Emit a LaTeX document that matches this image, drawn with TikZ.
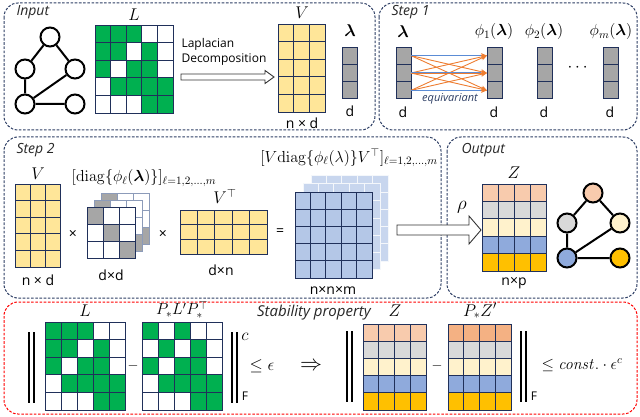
\RequirePackage{fix-cm}
\documentclass[tikz,border=0pt]{standalone}
\usepackage{amsmath}
\usepackage{bm}
\usepackage[no-math]{fontspec}
\setmainfont{Open Sans}
\usetikzlibrary{arrows.meta}
\definecolor{navyb}{RGB}{45,62,100}
\definecolor{cellb}{RGB}{32,48,90}
\definecolor{gGreen}{RGB}{0,176,80}
\definecolor{gYellow}{RGB}{255,230,153}
\definecolor{gGray}{RGB}{166,166,166}
\definecolor{gBlue}{RGB}{180,199,231}
\definecolor{gBlueL}{RGB}{200,214,238}
\definecolor{zA}{RGB}{248,203,173}
\definecolor{zAA}{RGB}{244,177,131}
\definecolor{zB}{RGB}{217,217,217}
\definecolor{zC}{RGB}{255,242,204}
\definecolor{zD}{RGB}{143,170,220}
\definecolor{zE}{RGB}{255,192,0}
\definecolor{orl}{RGB}{237,125,49}
\definecolor{bll}{RGB}{91,140,213}
\definecolor{liteb}{RGB}{140,155,185}
\newcommand{\mgrid}[8]{%
  \foreach \ci in {1,...,#3}{\foreach \ri in {1,...,#4}{
    \draw[#7,fill=#8] ({#1+(\ci-1)*#5},{#2+(\ri-1)*#6}) rectangle ++(#5,#6);}}}
\newcommand{\mcells}[7]{%
  \foreach \ci/\ri in {#7}{
    \draw[#5,fill=#6] ({#1+(\ci-1)*#3},{#2+(\ri-1)*#4}) rectangle ++(#3,#4);}}
\newcommand{\zrows}[6]{%
  \foreach \ri/\rc in {#6}{\foreach \ci in {1,...,4}{
    \draw[#5,fill=\rc] ({#1+(\ci-1)*#3},{#2+(\ri-1)*#4}) rectangle ++(#3,#4);}}}
\begin{document}
\begin{tikzpicture}[x=1pt,y=-1pt,
  panel/.style={draw=navyb,line width=1pt,dash pattern=on 2.6pt off 1.6pt,rounded corners=14pt},
  rpanel/.style={draw=red,line width=1pt,dash pattern=on 2.6pt off 1.6pt,rounded corners=14pt},
  cb/.style={draw=cellb,line width=0.8pt},
  cbl/.style={draw=liteb,line width=0.7pt},
  cbw/.style={draw=white!85!gBlue,line width=0.7pt},
  ttl/.style={font=\itshape\fontsize{14}{16}\selectfont,text=black!85},
  lbl/.style={font=\fontsize{14}{16}\selectfont},
  mlb/.style={font=\fontsize{17}{19}\selectfont},
  mlong/.style={font=\fontsize{16}{18}\selectfont},
  gn/.style={circle,draw=black,line width=2pt,minimum size=19pt,inner sep=0pt},
  ge/.style={draw=black,line width=2pt},
  hollow/.style={draw=black!80,line width=0.9pt,fill=white},
  nb/.style={line width=1.5pt},
  ora/.style={draw=orl,line width=0.9pt,-{Stealth[length=6pt,width=5pt]}},
  blu/.style={draw=bll,line width=1pt}]
\useasboundingbox (0,0) rectangle (640,417);
% panels
\draw[panel] (4,3) rectangle (375,130);
\draw[panel] (379,3) rectangle (637,130);
\draw[panel] (4,137) rectangle (441,298);
\draw[panel] (447,137) rectangle (637,298);
\draw[rpanel] (4,302) rectangle (637,414);
\node[ttl,anchor=west] (tin) at (13,12) {Input};
\node[ttl,anchor=west] (ts1) at (388,12) {Step 1};
\node[ttl,anchor=west] (ts2) at (13,150) {Step 2};
\node[ttl,anchor=west] (tout) at (458,150) {Output};
\node[ttl,font=\itshape\fontsize{15}{17}\selectfont] (tst) at (314,313) {Stability property};
% ---------------- Input
\node[gn] (a1) at (50,37) {};
\node[gn] (a2) at (25,69) {};
\node[gn] (a3) at (75,69) {};
\node[gn] (a4) at (25,104) {};
\node[gn] (a5) at (75,104) {};
\draw[ge] (a1)--(a2) (a1)--(a3) (a2)--(a4) (a4)--(a3) (a4)--(a5);
\mgrid{95}{25}{5}{5}{15.6}{17.6}{cb}{white}
\mcells{95}{25}{15.6}{17.6}{cb}{gGreen}{1/1,2/1,3/1,1/2,2/2,4/2,1/3,3/3,4/3,2/4,3/4,4/4,5/4,4/5,5/5}
\node[mlb] (lL) at (134,15) {$L$};
\node[font=\fontsize{12}{14.5}\selectfont,align=left,anchor=west] (lap) at (178,52) {Laplacian\\Decomposition};
\coordinate (ar1s) at (181,77);
\coordinate (ar1t) at (274,77);
\draw[hollow] ([yshift=-3pt]ar1s) -- ([xshift=-9pt,yshift=-3pt]ar1t) -- ([xshift=-9pt,yshift=-6.5pt]ar1t) -- (ar1t) -- ([xshift=-9pt,yshift=6.5pt]ar1t) -- ([xshift=-9pt,yshift=3pt]ar1t) -- ([yshift=3pt]ar1s) -- cycle;
\mgrid{278}{24}{3}{5}{15.7}{17.6}{cb}{gYellow}
\node[mlb] (lV) at (302,13) {$V$};
\node[lbl] (lnd) at (302,123) {n × d};
\mgrid{342}{47}{1}{3}{15}{17.3}{cb}{gGray}
\node[mlb] (llam) at (350,31) {$\bm{\lambda}$};
\node[lbl] (ld0) at (350,111) {d};
% ---------------- Step 1
\mgrid{396}{47}{1}{3}{15}{17.3}{cb}{gGray}
\mgrid{487}{47}{1}{3}{15}{17.3}{cb}{gGray}
\mgrid{537}{47}{1}{3}{15}{17.3}{cb}{gGray}
\mgrid{603}{47}{1}{3}{15}{17.3}{cb}{gGray}
\node[mlb] (s1l) at (403,32) {$\bm{\lambda}$};
\node[mlong] (s1a) at (494,32) {$\phi_1(\bm{\lambda})$};
\node[mlong] (s1b) at (544,32) {$\phi_2(\bm{\lambda})$};
\node[mlong] (s1c) at (611,32) {$\phi_m(\bm{\lambda})$};
\node[mlb] (dots) at (579,68) {$\cdots$};
\node[lbl] (d1) at (403,112) {d};
\node[lbl] (d2) at (494,112) {d};
\node[lbl] (d3) at (544,112) {d};
\node[lbl] (d4) at (610,112) {d};
\foreach \k/\yy in {1/55.6,2/73,3/90.4}{
  \coordinate (s\k) at (411,\yy);
  \coordinate (t\k) at (487,\yy);}
\foreach \i in {1,2,3}{\foreach \j in {1,2,3}{\draw[ora] (s\i) -- (t\j);}}
\foreach \k in {1,2,3}{\draw[blu,shorten >=6pt] (s\k) -- (t\k);}
\node[font=\itshape\fontsize{11}{12}\selectfont,text=navyb] (eqv) at (450,99) {equivariant};
% ---------------- Step 2
\mgrid{15}{184}{3}{5}{15}{16.6}{cb}{gYellow}
\node[mlb] (l2V) at (38,174) {$V$};
\node[lbl] (l2nd) at (38,280) {n × d};
\node[lbl] (x1) at (73,234) {×};
% diag stack
\mgrid{101}{193}{3}{3}{16}{17}{cbl}{white}
\mcells{101}{193}{16}{17}{cbl}{gGray}{1/1,2/2,3/3}
\mgrid{94}{200}{3}{3}{16}{17}{cbl}{white}
\mcells{94}{200}{16}{17}{cbl}{gGray}{1/1,2/2,3/3}
\mgrid{87}{207}{3}{3}{16}{17}{cb}{white}
\mcells{87}{207}{16}{17}{cb}{gGray}{1/1,2/2,3/3}
\node[mlong] (ldiag) at (144,178) {$[\mathrm{diag}\{\phi_\ell(\bm{\lambda})\}]_{\ell=1,2,\ldots,m}$};
\node[lbl] (ldd) at (111,275) {d×d};
\node[lbl] (x2) at (163,234) {×};
\mgrid{180}{210}{5}{3}{17.4}{14.7}{cb}{gYellow}
\node[mlb] (lVT) at (225,196) {$V^{\top}$};
\node[lbl] (ldn) at (221,270) {d×n};
\node[lbl] (eq) at (280,232) {=};
% blue stack
\mgrid{311}{175}{5}{5}{15.4}{17.2}{cbw}{gBlueL}
\mgrid{303}{183.5}{5}{5}{15.4}{17.2}{cbw}{gBlueL}
\mgrid{295}{192}{5}{5}{15.4}{17.2}{cb}{gBlue}
\node[mlong] (lVdV) at (349,158) {$[V\mathrm{diag}\{\phi_\ell(\lambda)\}V^{\top}]_{\ell=1,2,\ldots,m}$};
\node[lbl] (lnnm) at (333,290) {n×n×m};
\coordinate (ar2s) at (397,230);
\coordinate (ar2t) at (481,230);
\draw[hollow] ([yshift=-5pt]ar2s) -- ([xshift=-12pt,yshift=-5pt]ar2t) -- ([xshift=-12pt,yshift=-14pt]ar2t) -- (ar2t) -- ([xshift=-12pt,yshift=14pt]ar2t) -- ([xshift=-12pt,yshift=5pt]ar2t) -- ([yshift=5pt]ar2s) -- cycle;
\node[font=\fontsize{19}{21}\selectfont] (lrho) at (462,207) {$\rho$};
% ---------------- Output
\zrows{482}{184}{16}{17.4}{cb}{1/zA,2/zB,3/zC,4/zD,5/zE}
\node[mlb] (lZ) at (514,173) {$Z$};
\node[lbl] (lnp) at (514,283) {n×p};
\node[gn,fill=zA] (b1) at (593,193) {};
\node[gn,fill=zB] (b2) at (567,223) {};
\node[gn,fill=zC] (b3) at (620,223) {};
\node[gn,fill=zD] (b4) at (567,258) {};
\node[gn,fill=zE] (b5) at (620,258) {};
\draw[ge] (b1)--(b2) (b1)--(b3) (b2)--(b4) (b4)--(b3) (b4)--(b5);
% ---------------- Stability
\draw[nb] (29,332) -- (29,403) (34,332) -- (34,403);
\mgrid{45}{322}{5}{5}{16}{17.6}{cb}{white}
\mcells{45}{322}{16}{17.6}{cb}{gGreen}{1/1,2/1,3/1,1/2,2/2,4/2,1/3,3/3,4/3,2/4,3/4,4/4,5/4,4/5,5/5}
\node[mlb] (sL) at (85,311) {$L$};
\node[lbl] (m1) at (133,366) {$-$};
\mgrid{142}{322}{5}{5}{16}{17.6}{cb}{white}
\mcells{142}{322}{16}{17.6}{cb}{gGreen}{1/1,3/1,2/2,4/2,1/3,3/3,4/3,2/4,3/4,4/4,5/4,4/5,5/5}
\node[mlong] (sPLP) at (182,310) {$P_*L'P_*^{\top}$};
\draw[nb] (232,332) -- (232,403) (237,332) -- (237,403);
\node[mlb] (sc) at (245,337) {$c$};
\node[font=\fontsize{12}{14}\selectfont] (sF1) at (245,396) {F};
\node[mlb] (sle) at (262,366) {$\leq\epsilon$};
\node[font=\fontsize{22}{24}\selectfont] (simp) at (311,366) {$\Rightarrow$};
\draw[nb] (347,331) -- (347,402) (352,331) -- (352,402);
\zrows{363}{324}{15.8}{17.2}{cb}{1/zA,2/zB,3/zC,4/zD,5/zE}
\node[mlb] (sZ) at (395,311) {$Z$};
\node[lbl] (m2) at (437,366) {$-$};
\zrows{448}{324}{15.8}{17.2}{cb}{1/zAA,2/zB,3/zC,4/zD,5/zE}
\node[mlb] (sPZ) at (480,311) {$P_*Z'$};
\draw[nb] (521,331) -- (521,402) (526,331) -- (526,402);
\node[font=\fontsize{12}{14}\selectfont] (sF2) at (534,396) {F};
\node[font=\fontsize{16}{18}\selectfont] (sconst) at (582,365) {$\leq \mathit{const.}\cdot\epsilon^{c}$};
\end{tikzpicture}
\end{document}
